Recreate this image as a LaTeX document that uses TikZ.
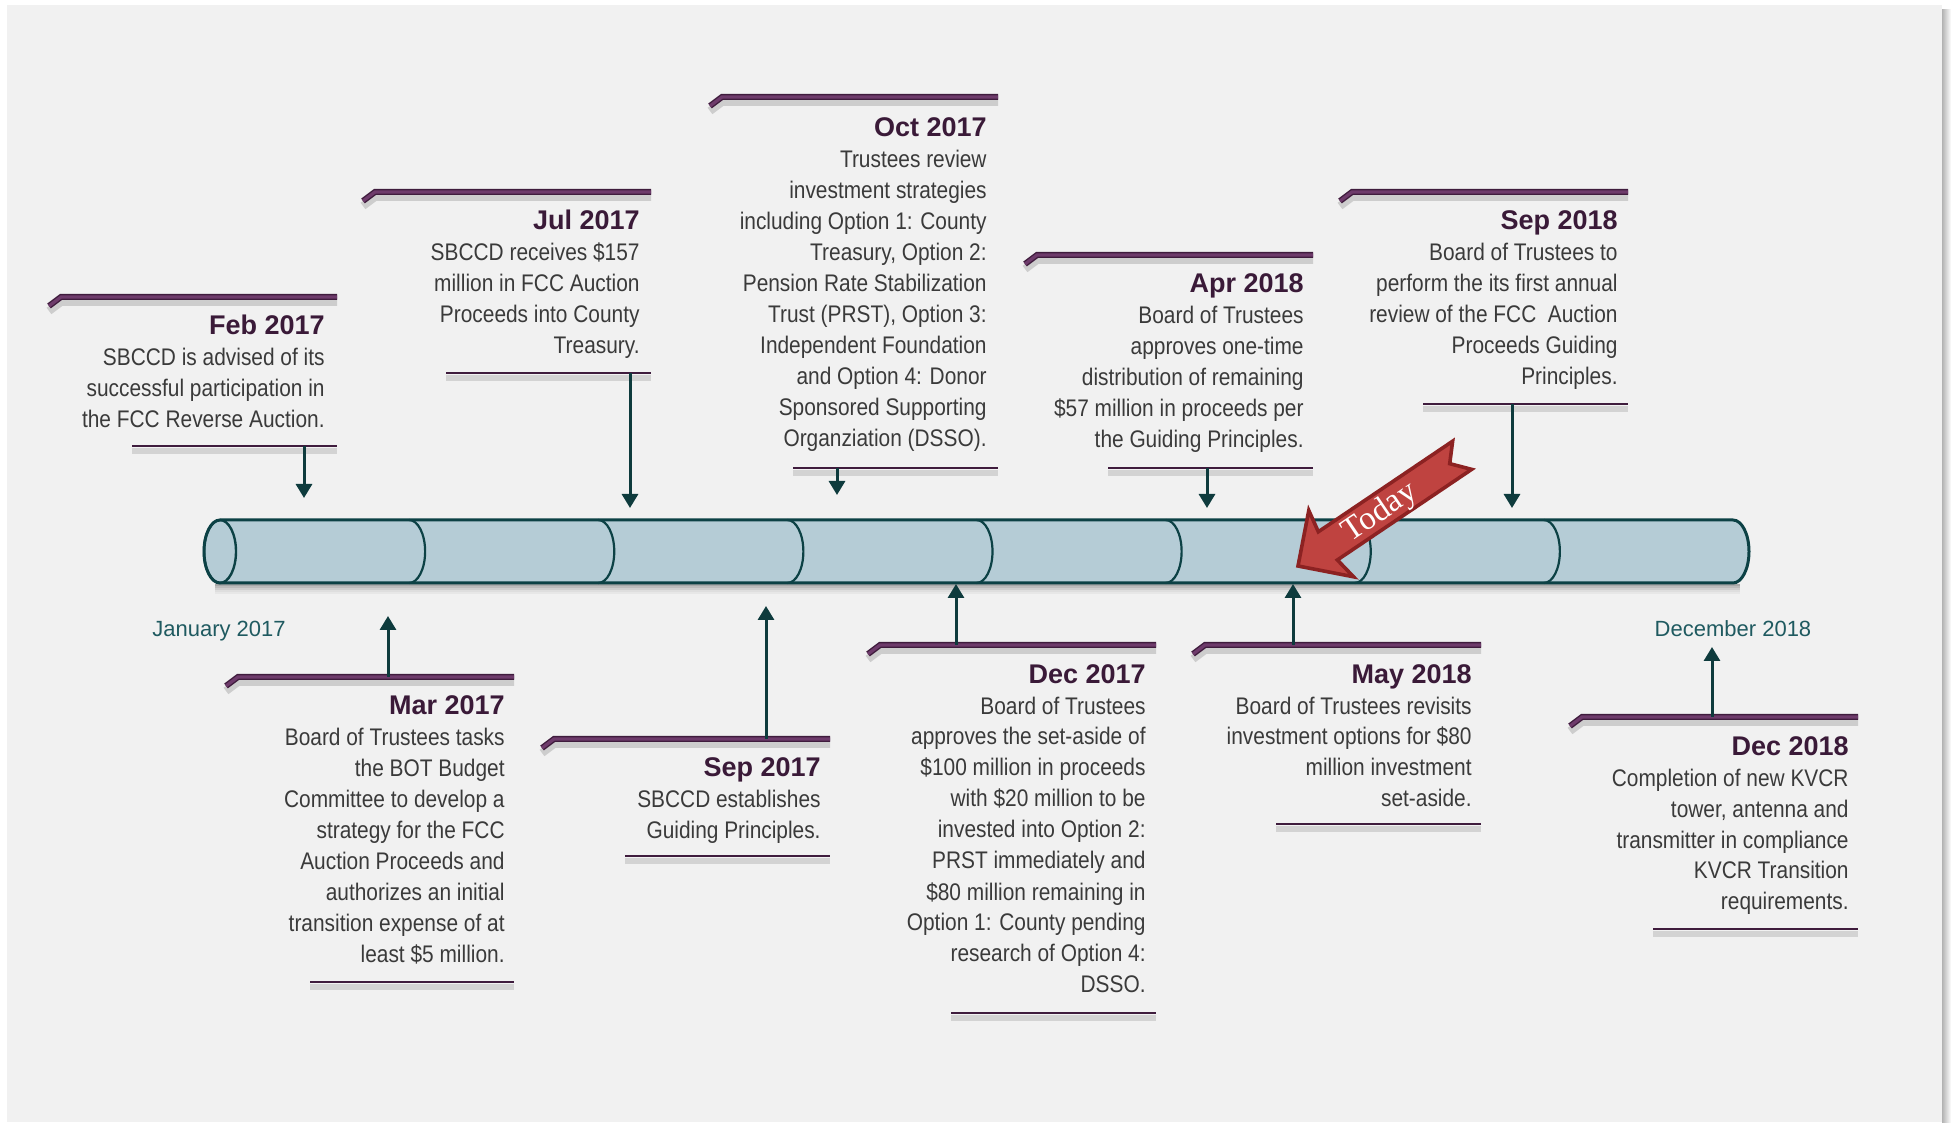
\documentclass[tikz,border=0pt]{standalone}
\usepackage{fontspec}
\setmainfont{Liberation Sans}
\newfontfamily\narrowfont{Liberation Sans}[FakeStretch=0.87]
\newfontfamily\todayfont{Liberation Serif}
\usetikzlibrary{arrows.meta}

\definecolor{bgGray}{HTML}{F1F1F1}
\definecolor{tubeFill}{HTML}{B5CCD6}
\definecolor{tubeLine}{HTML}{0C4145}
\definecolor{plum}{HTML}{6E3B6B}
\definecolor{plumDark}{HTML}{3F1C3D}
\definecolor{titleCol}{HTML}{3A1A38}
\definecolor{bodyCol}{HTML}{3A3A3A}
\definecolor{arrowCol}{HTML}{0E3B3D}
\definecolor{labelCol}{HTML}{1F5A60}
\definecolor{todayFill}{HTML}{BF4340}
\definecolor{todayLine}{HTML}{8C2222}

\newcommand{\evtitle}[1]{{\rmfamily\bfseries\fontsize{13.5}{15.5}\selectfont\color{titleCol}#1}}

\begin{document}
\begin{tikzpicture}[x=0.5pt, y=-0.5pt,
  topbar/.style={draw=plumDark, line width=3pt, line join=miter,
    preaction={draw=black, draw opacity=.15, line width=4pt, transform canvas={yshift=-2.5pt}},
    postaction={draw=plum, line width=1.6pt}},
  bottomline/.style={draw=plumDark, line width=1.2pt,
    preaction={draw=black, draw opacity=.12, line width=3pt, transform canvas={yshift=-2.5pt}}},
  tick/.style={draw=arrowCol, line width=1.5pt, -{Triangle[width=8pt, length=7pt]}},
  event/.style={anchor=base east, align=right, inner sep=0pt, text=bodyCol,
    font=\narrowfont\fontsize{12}{15.5}\selectfont},
  datelabel/.style={anchor=base, text=labelCol, font=\fontsize{11}{13}\selectfont}]

\useasboundingbox (0,0) rectangle (1951,1133);
\fill[white] (0,0) rectangle (1951,1133);
\fill[bgGray] (7,5) rectangle (1942,1122);
\shade[left color=black!30, right color=white] (1942,10) rectangle (1951,1122);

% tube
\foreach \d/\o in {2/0.30, 4/0.22, 6/0.14, 8/0.08, 10/0.04}
  \draw[line width=1.2pt, black, opacity=\o] (215,583+\d) -- (1740,583+\d);
\filldraw[fill=tubeFill, draw=tubeLine, line width=1.5pt] (220,520) -- (1733,520)
  arc[start angle=-90, end angle=90, x radius=16, y radius=31.5] -- (220,583)
  arc[start angle=90, end angle=270, x radius=16, y radius=31.5] -- cycle;
\draw[tubeLine, line width=1.2pt] (220,551.5) ellipse[x radius=16, y radius=31.5];
\foreach \k in {1,...,7}
  \draw[tubeLine, line width=1.1pt] (220+189.125*\k,520) arc[start angle=-90, end angle=90, x radius=16, y radius=31.5];

\node[datelabel] (jan17) at (219,637) {January 2017};
\node[datelabel] (dec18lbl) at (1733,637) {December 2018};

% Feb 2017
\draw[topbar] (49,306) -- (61,297) -- (337,297);
\node[event] (feb17) at (325,428) {\evtitle{Feb 2017}\\SBCCD is advised of its\\successful participation in\\the FCC Reverse Auction.};
\draw[bottomline] (132,446) -- (337,446);
\coordinate (feb17a) at (304,446);
\coordinate (feb17b) at (304,498);
\draw[tick] (feb17a) -- (feb17b);

% Jul 2017
\draw[topbar] (363,201) -- (375,192) -- (651,192);
\node[event] (jul17) at (640,354) {\evtitle{Jul 2017}\\SBCCD receives \$157\\million in FCC Auction\\Proceeds into County\\Treasury.};
\draw[bottomline] (446,373) -- (651,373);
\coordinate (jul17a) at (630,373);
\coordinate (jul17b) at (630,508);
\draw[tick] (jul17a) -- (jul17b);

% Oct 2017
\draw[topbar] (710,106) -- (722,97) -- (998,97);
\node[event] (oct17) at (987,447) {\evtitle{Oct 2017}\\Trustees review\\investment strategies\\including Option 1: County\\Treasury, Option 2:\\Pension Rate Stabilization\\Trust (PRST), Option 3:\\Independent Foundation\\and Option 4: Donor\\Sponsored Supporting\\Organziation (DSSO).};
\draw[bottomline] (793,468) -- (998,468);
\coordinate (oct17a) at (837,468);
\coordinate (oct17b) at (837,495);
\draw[tick] (oct17a) -- (oct17b);

% Apr 2018
\draw[topbar] (1025,264) -- (1037,255) -- (1313,255);
\node[event] (apr18) at (1304,448) {\evtitle{Apr 2018}\\Board of Trustees\\approves one-time\\distribution of remaining\\\$57 million in proceeds per\\the Guiding Principles.};
\draw[bottomline] (1108,468) -- (1313,468);
\coordinate (apr18a) at (1207,468);
\coordinate (apr18b) at (1207,508);
\draw[tick] (apr18a) -- (apr18b);

% Sep 2018
\draw[topbar] (1340,201) -- (1352,192) -- (1628,192);
\node[event] (sep18) at (1618,385) {\evtitle{Sep 2018}\\Board of Trustees to\\perform the its first annual\\review of the FCC\ \ Auction\\Proceeds Guiding\\Principles.};
\draw[bottomline] (1423,404) -- (1628,404);
\coordinate (sep18a) at (1512,404);
\coordinate (sep18b) at (1512,508);
\draw[tick] (sep18a) -- (sep18b);

% Mar 2017
\draw[topbar] (226,686) -- (238,677) -- (514,677);
\node[event] (mar17) at (505,963) {\evtitle{Mar 2017}\\Board of Trustees tasks\\the BOT Budget\\Committee to develop a\\strategy for the FCC\\Auction Proceeds and\\authorizes an initial\\transition expense of at\\least \$5 million.};
\draw[bottomline] (310,982) -- (514,982);
\coordinate (mar17a) at (388,677);
\coordinate (mar17b) at (388,616);
\draw[tick] (mar17a) -- (mar17b);

% Sep 2017
\draw[topbar] (542,748) -- (554,739) -- (830,739);
\node[event] (sep17) at (821,839) {\evtitle{Sep 2017}\\SBCCD establishes\\Guiding Principles.};
\draw[bottomline] (625,856) -- (830,856);
\coordinate (sep17a) at (766,739);
\coordinate (sep17b) at (766,606);
\draw[tick] (sep17a) -- (sep17b);

% Dec 2017
\draw[topbar] (868,654) -- (880,645) -- (1156,645);
\node[event] (dec17) at (1146,993) {\evtitle{Dec 2017}\\Board of Trustees\\approves the set-aside of\\\$100 million in proceeds\\with \$20 million to be\\invested into Option 2:\\PRST immediately and\\\$80 million remaining in\\Option 1: County pending\\research of Option 4:\\DSSO.};
\draw[bottomline] (951,1013) -- (1156,1013);
\coordinate (dec17a) at (956,645);
\coordinate (dec17b) at (956,584);
\draw[tick] (dec17a) -- (dec17b);

% May 2018
\draw[topbar] (1193,654) -- (1205,645) -- (1481,645);
\node[event] (may18) at (1472,807) {\evtitle{May 2018}\\Board of Trustees revisits\\investment options for \$80\\million investment\\set-aside.};
\draw[bottomline] (1276,824) -- (1481,824);
\coordinate (may18a) at (1293,645);
\coordinate (may18b) at (1293,584);
\draw[tick] (may18a) -- (may18b);

% Dec 2018
\draw[topbar] (1570,726) -- (1582,717) -- (1858,717);
\node[event] (dec18) at (1849,910) {\evtitle{Dec 2018}\\Completion of new KVCR\\tower, antenna and\\transmitter in compliance\\KVCR Transition\\requirements.};
\draw[bottomline] (1653,929) -- (1858,929);
\coordinate (dec18a) at (1712,717);
\coordinate (dec18b) at (1712,647);
\draw[tick] (dec18a) -- (dec18b);

% today marker
\begin{scope}[shift={(1298,566)}, rotate=34]
\filldraw[fill=todayFill, draw=todayLine, line width=1.8pt, line join=miter]
  (0,0) -- (40,-40) -- (36,-17) -- (198,-17) -- (183,0) -- (198,17) -- (36,17) -- (40,40) -- cycle;
\node[rotate=34, text=white, font=\todayfont\fontsize{16.5}{16.5}\selectfont] (today) at (98,2) {Today};
\end{scope}

\end{tikzpicture}
\end{document}
